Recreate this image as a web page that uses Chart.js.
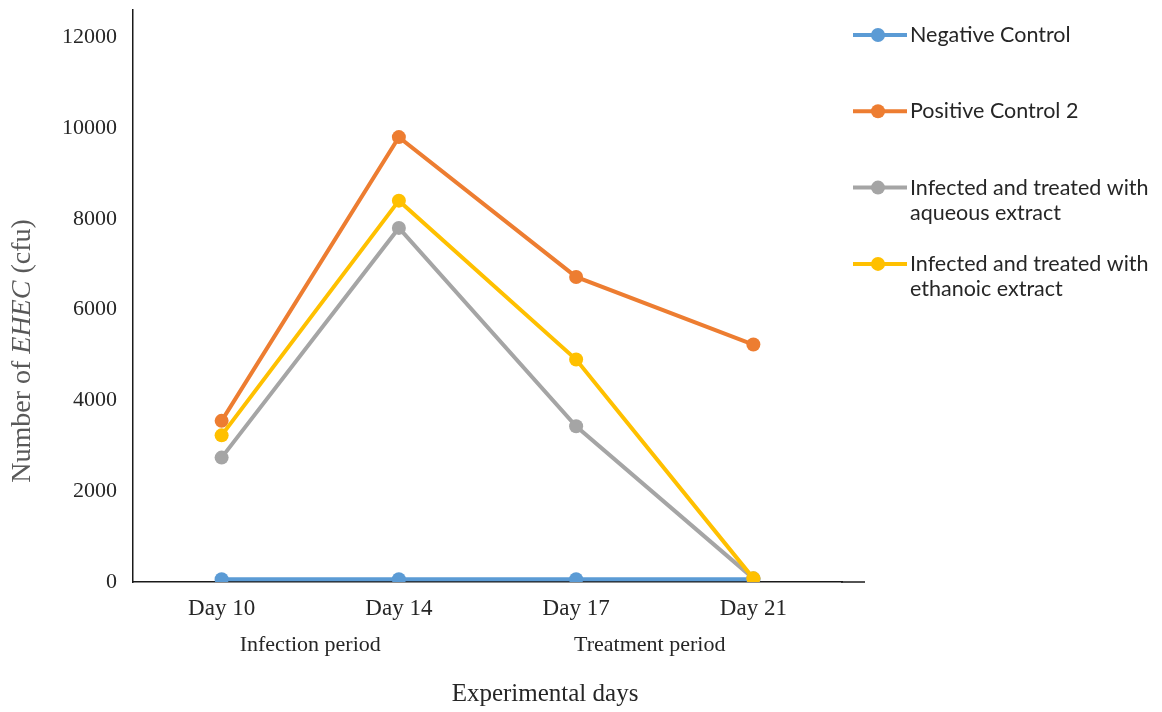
<!DOCTYPE html>
<html>
<head>
<meta charset="utf-8">
<script src="https://cdn.jsdelivr.net/npm/chart.js@4.4.1/dist/chart.umd.min.js"></script>
<style>
  html, body { margin: 0; padding: 0; background: #fff; }
  #wrap { width: 1162px; height: 712px; position: relative; }
</style>
</head>
<body>
<div id="wrap"><canvas id="chart"></canvas></div>
<script>
// data
const categories = ['Day 10', 'Day 14', 'Day 17', 'Day 21'];
const negativeControl = [60, 60, 60, 60];
const positiveControl2 = [3550, 9800, 6720, 5230];
const aqueousExtract = [2740, 7800, 3430, 80];
const ethanoicExtract = [3230, 8400, 4900, 80];
const seriesNames = [
    ['Negative Control'],
    ['Positive Control 2'],
    ['Infected and treated with', 'aqueous extract'],
    ['Infected and treated with', 'ethanoic extract']
];
const seriesColors = ['#5B9BD5', '#ED7D31', '#A5A5A5', '#FFC000'];
const periodLabels = ['Infection period', 'Treatment period'];
const yTickValues = [0, 2000, 4000, 6000, 8000, 10000, 12000];
const yMax = 12600;
const xTitle = 'Experimental days';
const yTitleParts = [['Number of ', false], ['EHEC', true], [' (cfu)', false]];

const serif = "'Liberation Serif', 'Times New Roman', serif";
const sans = "Lato, 'Noto Sans', sans-serif";
const periodNudge = [0, -15]; // hand placed in the original

// period labels, x title, y title with italic part
const textPlugin = {
    id: 'extraText',
    afterDraw(chart) {
        const ctx = chart.ctx;
        const x = chart.scales.x;
        ctx.save();
        // x axis line runs a bit past the last category in the original
        ctx.strokeStyle = '#1a1a1a';
        ctx.lineWidth = 1.5;
        ctx.beginPath();
        ctx.moveTo(x.right - 1, x.top);
        ctx.lineTo(x.right + 23, x.top);
        ctx.stroke();

        ctx.fillStyle = '#262626';
        ctx.font = '22px ' + serif;
        ctx.textAlign = 'center';
        ctx.textBaseline = 'middle';
        periodLabels.forEach((lab, i) => {
            const px = (x.getPixelForValue(2 * i) + x.getPixelForValue(2 * i + 1)) / 2;
            ctx.fillText(lab, px + periodNudge[i], 645);
        });
        ctx.font = '25px ' + serif;
        ctx.fillText(xTitle, 545, 694);

        // rotated y title
        ctx.translate(23, 351);
        ctx.rotate(-Math.PI / 2);
        ctx.fillStyle = '#595959';
        let total = 0;
        yTitleParts.forEach(p => {
            ctx.font = (p[1] ? 'italic ' : '') + '28px ' + serif;
            total += ctx.measureText(p[0]).width;
        });
        let cx = -total / 2;
        ctx.textAlign = 'left';
        yTitleParts.forEach(p => {
            ctx.font = (p[1] ? 'italic ' : '') + '28px ' + serif;
            ctx.fillText(p[0], cx, 0);
            cx += ctx.measureText(p[0]).width;
        });
        ctx.restore();
    }
};

// legend at the right, wrapped lines
const legendPlugin = {
    id: 'sideLegend',
    afterDraw(chart) {
        const ctx = chart.ctx;
        ctx.save();
        ctx.font = '21.5px ' + sans;
        ctx.textBaseline = 'middle';
        ctx.textAlign = 'left';
        chart.data.datasets.forEach((ds, i) => {
            const y = 35 + i * 76.3;
            ctx.strokeStyle = ds.borderColor;
            ctx.lineWidth = 4;
            ctx.beginPath();
            ctx.moveTo(853, y);
            ctx.lineTo(907, y);
            ctx.stroke();
            ctx.fillStyle = ds.borderColor;
            ctx.beginPath();
            ctx.arc(878, y, 7, 0, Math.PI * 2);
            ctx.fill();
            ctx.fillStyle = '#262626';
            seriesNames[i].forEach((line, j) => {
                ctx.fillText(line, 910, y + j * 25);
            });
        });
        ctx.restore();
    }
};

const allSeries = [negativeControl, positiveControl2, aqueousExtract, ethanoicExtract];

new Chart(document.getElementById('chart'), {
    type: 'line',
    data: {
        labels: categories,
        datasets: allSeries.map((vals, i) => ({
            label: seriesNames[i].join(' '),
            data: vals,
            borderColor: seriesColors[i],
            backgroundColor: seriesColors[i],
            pointBackgroundColor: seriesColors[i],
            pointBorderWidth: 0,
            pointRadius: 7,
            borderWidth: 4,
            tension: 0,
            order: allSeries.length - i
        }))
    },
    options: {
        responsive: true,
        maintainAspectRatio: false,
        animation: false,
        layout: { padding: { top: 10, right: 320, bottom: 0, left: 0 } },
        plugins: {
            legend: { display: false },
            tooltip: { enabled: false }
        },
        scales: {
            x: {
                offset: true,
                grid: { display: false, drawTicks: false },
                border: { color: '#1a1a1a', width: 1.5 },
                ticks: { color: '#262626', font: { family: serif, size: 23 }, padding: 13 },
                afterFit(scale) { scale.height = 130; }
            },
            y: {
                min: 0,
                max: yMax,
                grid: { display: false, drawTicks: false },
                border: { color: '#1a1a1a', width: 1.5 },
                ticks: {
                    autoSkip: false,
                    color: '#262626',
                    font: { family: serif, size: 22 },
                    padding: 16,
                    callback: v => String(v)
                },
                afterBuildTicks(scale) {
                    scale.ticks = yTickValues.map(v => ({ value: v }));
                },
                afterFit(scale) {
                    scale.width = 133;
                    scale.paddingTop = 0;
                    scale.paddingBottom = 0;
                }
            }
        }
    },
    plugins: [textPlugin, legendPlugin]
});
</script>
</body>
</html>
